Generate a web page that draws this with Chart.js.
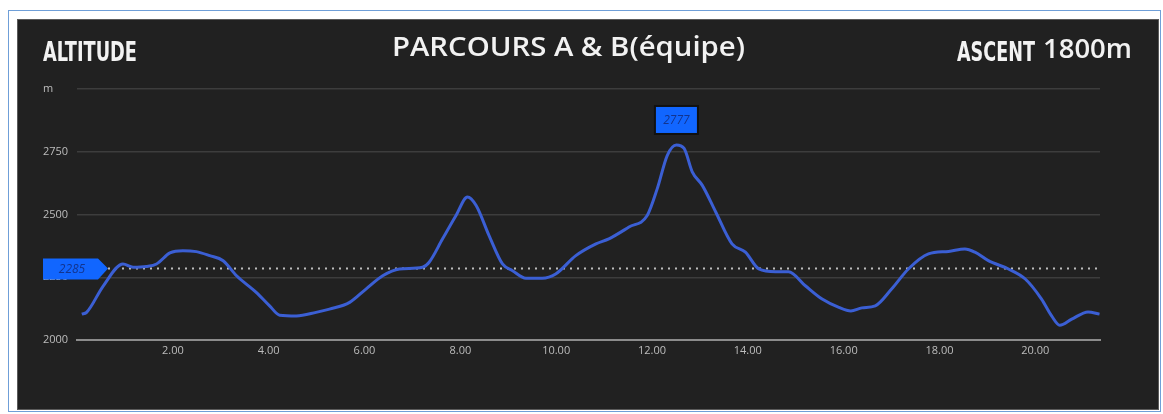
<!DOCTYPE html>
<html>
<head>
<meta charset="utf-8">
<script src="https://cdn.jsdelivr.net/npm/chart.js@4/dist/chart.umd.min.js"></script>
<style>
  html, body { margin: 0; padding: 0; background: #fff; }
  body { width: 1163px; height: 414px; position: relative; overflow: hidden; }
  .frame { position: absolute; left: 8px; top: 10px; width: 1151px; height: 400px; border: 1.5px solid #6f9fd8; }
  .panel { position: absolute; left: 18px; top: 20px; width: 1140px; height: 389px; background: #212121; box-shadow: 0 0 0 1px #5a5a5a; }
  .panel canvas { position: absolute; left: 0; top: 0; }
  .hdr { position: absolute; color: #f2f2f2; white-space: nowrap; line-height: 1; transform-origin: left top; }
  .cond { font-family: "DejaVu Sans Condensed", "DejaVu Sans", sans-serif; font-weight: bold; font-size: 27px; }
  .title { font-family: "Open Sans", sans-serif; font-weight: 600; font-size: 27px; }
  .num { font-family: "Open Sans", sans-serif; font-weight: 600; font-size: 27px; }
</style>
</head>
<body>
<div class="frame"></div>
<div class="panel">
  <canvas id="chart" width="1140" height="389"></canvas>
</div>
<span class="hdr cond" id="altitude" style="left:43px; top:38px;">ALTITUDE</span>
<span class="hdr title" id="title" style="left:392px; top:32px;">PARCOURS A &amp; B(équipe)</span>
<span class="hdr cond" id="ascent" style="left:957px; top:38px;">ASCENT</span>
<span class="hdr num" id="ascentVal" style="left:1043px; top:34px;">1800m</span>
<script>
// altitude profile
const distanceKm = [0.1, 0.2, 0.55, 0.96, 1.17, 1.45, 1.66, 1.94, 2.21, 2.49, 2.77, 3.05, 3.33, 3.74, 4.02, 4.23, 4.58, 4.99, 5.27, 5.69, 6.03, 6.38, 6.73, 7.21, 7.35, 7.63, 7.91, 8.15, 8.33, 8.6, 8.88, 9.09, 9.37, 9.71, 9.99, 10.41, 10.83, 11.1, 11.52, 11.9, 12.11, 12.32, 12.51, 12.67, 12.84, 13.05, 13.33, 13.67, 13.95, 14.23, 14.58, 14.85, 15.2, 15.55, 15.9, 16.15, 16.38, 16.66, 17.0, 17.35, 17.77, 18.19, 18.53, 18.74, 19.02, 19.44, 19.79, 20.13, 20.34, 20.51, 20.76, 21.1, 21.34];
const altitudeM = [2103, 2110, 2216, 2303, 2290, 2293, 2303, 2347, 2356, 2352, 2336, 2316, 2256, 2190, 2136, 2099, 2096, 2110, 2123, 2150, 2203, 2256, 2283, 2290, 2310, 2403, 2496, 2570, 2536, 2416, 2303, 2276, 2246, 2246, 2263, 2336, 2383, 2403, 2450, 2496, 2603, 2736, 2777, 2763, 2670, 2616, 2510, 2383, 2350, 2283, 2272, 2272, 2216, 2163, 2130, 2116, 2128, 2136, 2203, 2283, 2343, 2353, 2363, 2350, 2316, 2283, 2243, 2163, 2096, 2059, 2083, 2112, 2103];

const xTicks = [2, 4, 6, 8, 10, 12, 14, 16, 18, 20];
const yTicks = [2000, 2250, 2500, 2750, 3000];

const startLevel = 2285;
const peakKm = 12.51;
const peakAlt = 2777;

const markers = {
	id: "markers",
	beforeDatasetsDraw(chart) {
		const { ctx, chartArea, scales } = chart;
		const y = Math.round(scales.y.getPixelForValue(startLevel)) + 0.5;
		ctx.save();
		ctx.strokeStyle = "#bdbdbd";
		ctx.lineWidth = 2;
		ctx.setLineDash([2, 5]);
		ctx.beginPath();
		ctx.moveTo(chartArea.left + 31, y);
		ctx.lineTo(chartArea.right, y);
		ctx.stroke();
		ctx.restore();
	},
	afterDraw(chart) {
		const { ctx, chartArea, scales } = chart;
		ctx.save();
		// start level tag
		const y = scales.y.getPixelForValue(startLevel);
		const l = chartArea.left - 34, tip = chartArea.left + 31;
		ctx.fillStyle = "#1166ff";
		ctx.beginPath();
		ctx.moveTo(l, y - 10);
		ctx.lineTo(tip - 10, y - 10);
		ctx.lineTo(tip, y);
		ctx.lineTo(tip - 10, y + 11);
		ctx.lineTo(l, y + 11);
		ctx.closePath();
		ctx.fill();
		ctx.fillStyle = "#12348f";
		ctx.font = "italic 12px 'Open Sans', sans-serif";
		ctx.textAlign = "center";
		ctx.textBaseline = "middle";
		ctx.fillText(String(startLevel), l + 29, y + 1);

		// peak tag
		const px = scales.x.getPixelForValue(peakKm);
		const py = scales.y.getPixelForValue(peakAlt);
		const w = 41, h = 26;
		const bx = px - w / 2, by = py - 12 - h;
		ctx.fillStyle = "#111";
		ctx.fillRect(bx - 2, by - 2, w + 4, h + 4);
		ctx.fillStyle = "#1166ff";
		ctx.fillRect(bx, by, w, h);
		ctx.fillStyle = "#12348f";
		ctx.fillText(String(peakAlt), px, by + h / 2 + 1);
		ctx.restore();
	},
};

new Chart(document.getElementById("chart"), {
	type: "line",
	data: {
		datasets: [
			{
				data: distanceKm.map((x, i) => ({ x, y: altitudeM[i] })),
				borderColor: "#3b5fd4",
				borderWidth: 3,
				pointRadius: 0,
				fill: false,
				cubicInterpolationMode: "monotone",
			},
		],
	},
	options: {
		responsive: false,
		animation: false,
		devicePixelRatio: 1,
		layout: { padding: { left: 25, right: 58, top: 69, bottom: 39 } },
		plugins: { legend: { display: false }, tooltip: { enabled: false } },
		scales: {
			x: {
				type: "linear",
				min: 0,
				max: 21.35,
				afterBuildTicks: (s) => {
					s.ticks = xTicks.map((v) => ({ value: v }));
				},
				afterFit: (s) => {
					s.height = 30;
				},
				ticks: {
					color: "#bdbdbd",
					font: { family: "'Open Sans', sans-serif", size: 11 },
					padding: 4,
					maxRotation: 0,
					autoSkip: false,
					callback: (v) => Number(v).toFixed(2),
				},
				grid: { display: false, drawTicks: false },
				border: { color: "#8c8c8c", width: 2 },
			},
			y: {
				min: 2000,
				max: 3000,
				afterBuildTicks: (s) => {
					s.ticks = yTicks.map((v) => ({ value: v }));
				},
				afterFit: (s) => {
					s.width = 34;
				},
				ticks: {
					color: "#bdbdbd",
					font: { family: "'Open Sans', sans-serif", size: 11 },
					crossAlign: "far",
					padding: 0,
					callback: (v) => (v === 3000 ? "m" : v),
				},
				grid: { color: "#3d3d3d", lineWidth: 1.5, drawTicks: false },
				border: { display: false },
			},
		},
	},
	plugins: [markers],
});

// squeeze header labels to the widths seen in the picture
function fitWidth(id, target) {
	const el = document.getElementById(id);
	const w = el.getBoundingClientRect().width;
	el.style.transform = "scaleX(" + target / w + ")";
}
fitWidth("altitude", 94);
fitWidth("title", 353);
fitWidth("ascent", 78);
fitWidth("ascentVal", 89);
</script>
</body>
</html>
